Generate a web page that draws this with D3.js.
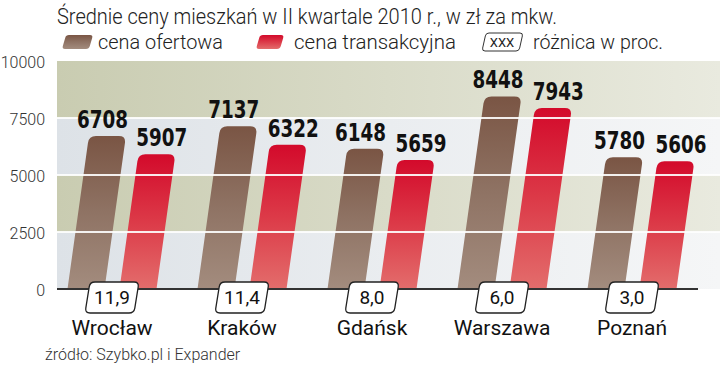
<!DOCTYPE html>
<html><head><meta charset="utf-8">
<script src="https://cdn.jsdelivr.net/npm/d3@7"></script>
<style>body{margin:0;background:#fff}svg{display:block}</style>
</head><body>
<svg id="c" width="720" height="387"></svg>
<script>
const cities = ["Wrocław","Kraków","Gdańsk","Warszawa","Poznań"];
const offerPrice = [6708,7137,6148,8448,5780];
const transPrice = [5907,6322,5659,7943,5606];
const diffPct = ["11,9","11,4","8,0","6,0","3,0"];
const yTicks = [0,2500,5000,7500,10000];
const seriesNames = ["cena ofertowa","cena transakcyjna"];
const title = "Średnie ceny mieszkań w II kwartale 2010 r., w zł za mkw.";
const source = "źródło: Szybko.pl i Expander";

const svg = d3.select("#c");
const defs = svg.append("defs");
const y = d3.scaleLinear().domain([0,10000]).range([289,61]);
const x = d3.scaleBand().domain(cities).range([47,697]);
const plotL = 57, plotR = 720;

function grad(id, stops, horiz){
  const g = defs.append("linearGradient").attr("id",id)
    .attr("x1",0).attr("y1",0).attr("x2",horiz?1:0).attr("y2",horiz?0:1);
  stops.forEach((c,i)=>g.append("stop").attr("offset",i/(stops.length-1)).attr("stop-color",c));
}
grad("olive",["#c9ccb1","#d9dbc8","#e9eadf"],true);
grad("grey",["#dde2e7","#eaedf0","#f5f6f7"],true);
grad("brown",["#7a5544","#8f7364","#a38c7e"],false);
grad("red",["#d30a2b","#dc3a48","#e36d6c"],false);

function roundPoly(pts, radii){
  let d = "";
  const n = pts.length;
  for(let i=0;i<n;i++){
    const p = pts[i], prev = pts[(i-1+n)%n], next = pts[(i+1)%n];
    const r = radii[i];
    if(!r){ d += (i===0?"M":"L")+p[0]+","+p[1]; continue; }
    const d1 = Math.hypot(p[0]-prev[0],p[1]-prev[1]);
    const d2 = Math.hypot(next[0]-p[0],next[1]-p[1]);
    const a = [p[0]+(prev[0]-p[0])*r/d1, p[1]+(prev[1]-p[1])*r/d1];
    const b = [p[0]+(next[0]-p[0])*r/d2, p[1]+(next[1]-p[1])*r/d2];
    d += (i===0?"M":"L")+a[0]+","+a[1]+"Q"+p[0]+","+p[1]+" "+b[0]+","+b[1];
  }
  return d+"Z";
}
function para(x0,y0,w,h,s,r){
  return roundPoly([[x0+s,y0],[x0+s+w,y0],[x0+w,y0+h],[x0,y0+h]],[r,r,r,r]);
}

// background bands
const bands = yTicks.slice(0,-1).map((t,i)=>({lo:t,hi:yTicks[i+1],cls:i%2===0?"grey":"olive"}));
svg.append("g").selectAll("rect").data(bands).join("rect")
  .attr("x",plotL).attr("width",plotR-plotL)
  .attr("y",d=>y(d.hi)).attr("height",d=>y(d.lo)-y(d.hi))
  .attr("fill",d=>`url(#${d.cls})`);

// bars
const slantK = 0.14, bw = 37, off = [-26,26];
const series = [offerPrice, transPrice];
const fills = ["url(#brown)","url(#red)"];
const barG = svg.append("g");
const gridG = svg.append("g");
const labG = svg.append("g");
series.forEach((vals,si)=>{
  cities.forEach((c,i)=>{
    const cx = x(c)+x.bandwidth()/2+off[si];
    const y0 = y(0), yt = y(vals[i]);
    const s = (y0-yt)*slantK;
    const xl = cx-bw/2;
    barG.append("path")
      .attr("d",roundPoly([[xl,y0],[xl+s,yt],[xl+s+bw,yt],[xl+bw,y0]],[0,7,7,0]))
      .attr("fill",fills[si]);
    labG.append("text")
      .attr("x",cx+s+(si===0?-5:5)).attr("y",yt-8)
      .attr("text-anchor","middle")
      .attr("font-family","'DejaVu Sans Condensed','DejaVu Sans',sans-serif")
      .attr("font-weight","bold").attr("font-size",24).attr("fill","#111")
      .attr("textLength",51).attr("lengthAdjust","spacingAndGlyphs")
      .text(d3.format("d")(vals[i]));
  });
});

// white gridlines over bars
gridG.selectAll("line").data(yTicks.slice(1,-1)).join("line")
  .attr("x1",plotL).attr("x2",plotR).attr("y1",d=>y(d)).attr("y2",d=>y(d))
  .attr("stroke","#fff").attr("stroke-width",1.8).attr("opacity",0.9);

// y axis labels
svg.append("g").selectAll("text").data(yTicks).join("text")
  .attr("x",45).attr("y",d=>y(d)+7).attr("text-anchor","end")
  .attr("font-family","Roboto,sans-serif").attr("font-weight",300)
  .attr("font-size",16).attr("fill","#333").text(d=>d);

// baseline
svg.append("line").attr("x1",plotL).attr("x2",698).attr("y1",y(0)).attr("y2",y(0))
  .attr("stroke","#333").attr("stroke-width",2);

// diff boxes
const boxG = svg.append("g");
cities.forEach((c,i)=>{
  const cx = x(c)+x.bandwidth()/2;
  boxG.append("path").attr("d",para(cx-27,282,49,31,5,5))
    .attr("fill","#fff").attr("stroke","#222").attr("stroke-width",1.3);
  boxG.append("text").attr("x",cx).attr("y",304).attr("text-anchor","middle")
    .attr("font-family","Roboto,sans-serif").attr("font-size",19).attr("fill","#111")
    .text(diffPct[i]);
  boxG.append("text").attr("x",cx).attr("y",335).attr("text-anchor","middle")
    .attr("font-family","Roboto,sans-serif").attr("font-size",21).attr("fill","#111")
    .text(c);
});

// title
svg.append("text").attr("x",57).attr("y",24)
  .attr("font-family","Roboto,sans-serif").attr("font-weight",300)
  .attr("font-size",22).attr("fill","#222")
  .attr("textLength",500).attr("lengthAdjust","spacingAndGlyphs").text(title);

// legend
const lg = svg.append("g").attr("font-family","Roboto,sans-serif").attr("font-weight",300)
  .attr("font-size",20).attr("fill","#222");
lg.append("path").attr("d",para(62,35,27,14,4,3)).attr("fill","url(#brown)");
lg.append("text").attr("x",98).attr("y",49).attr("textLength",125).attr("lengthAdjust","spacingAndGlyphs").text(seriesNames[0]);
lg.append("path").attr("d",para(256,35,24,14,4,3)).attr("fill","url(#red)");
lg.append("text").attr("x",294).attr("y",49).attr("textLength",162).attr("lengthAdjust","spacingAndGlyphs").text(seriesNames[1]);
lg.append("path").attr("d",para(482,33,37,18,4,3)).attr("fill","#fff").attr("stroke","#333").attr("stroke-width",1);
lg.append("text").attr("x",502).attr("y",47).attr("text-anchor","middle").attr("font-size",13).attr("font-weight",400).text("XXX");
lg.append("text").attr("x",533).attr("y",49).attr("textLength",130).attr("lengthAdjust","spacingAndGlyphs").text("różnica w proc.");

// source
svg.append("text").attr("x",45).attr("y",360)
  .attr("font-family","Roboto,sans-serif").attr("font-weight",300)
  .attr("font-size",16).attr("fill","#333").text(source);
</script>
</body></html>
